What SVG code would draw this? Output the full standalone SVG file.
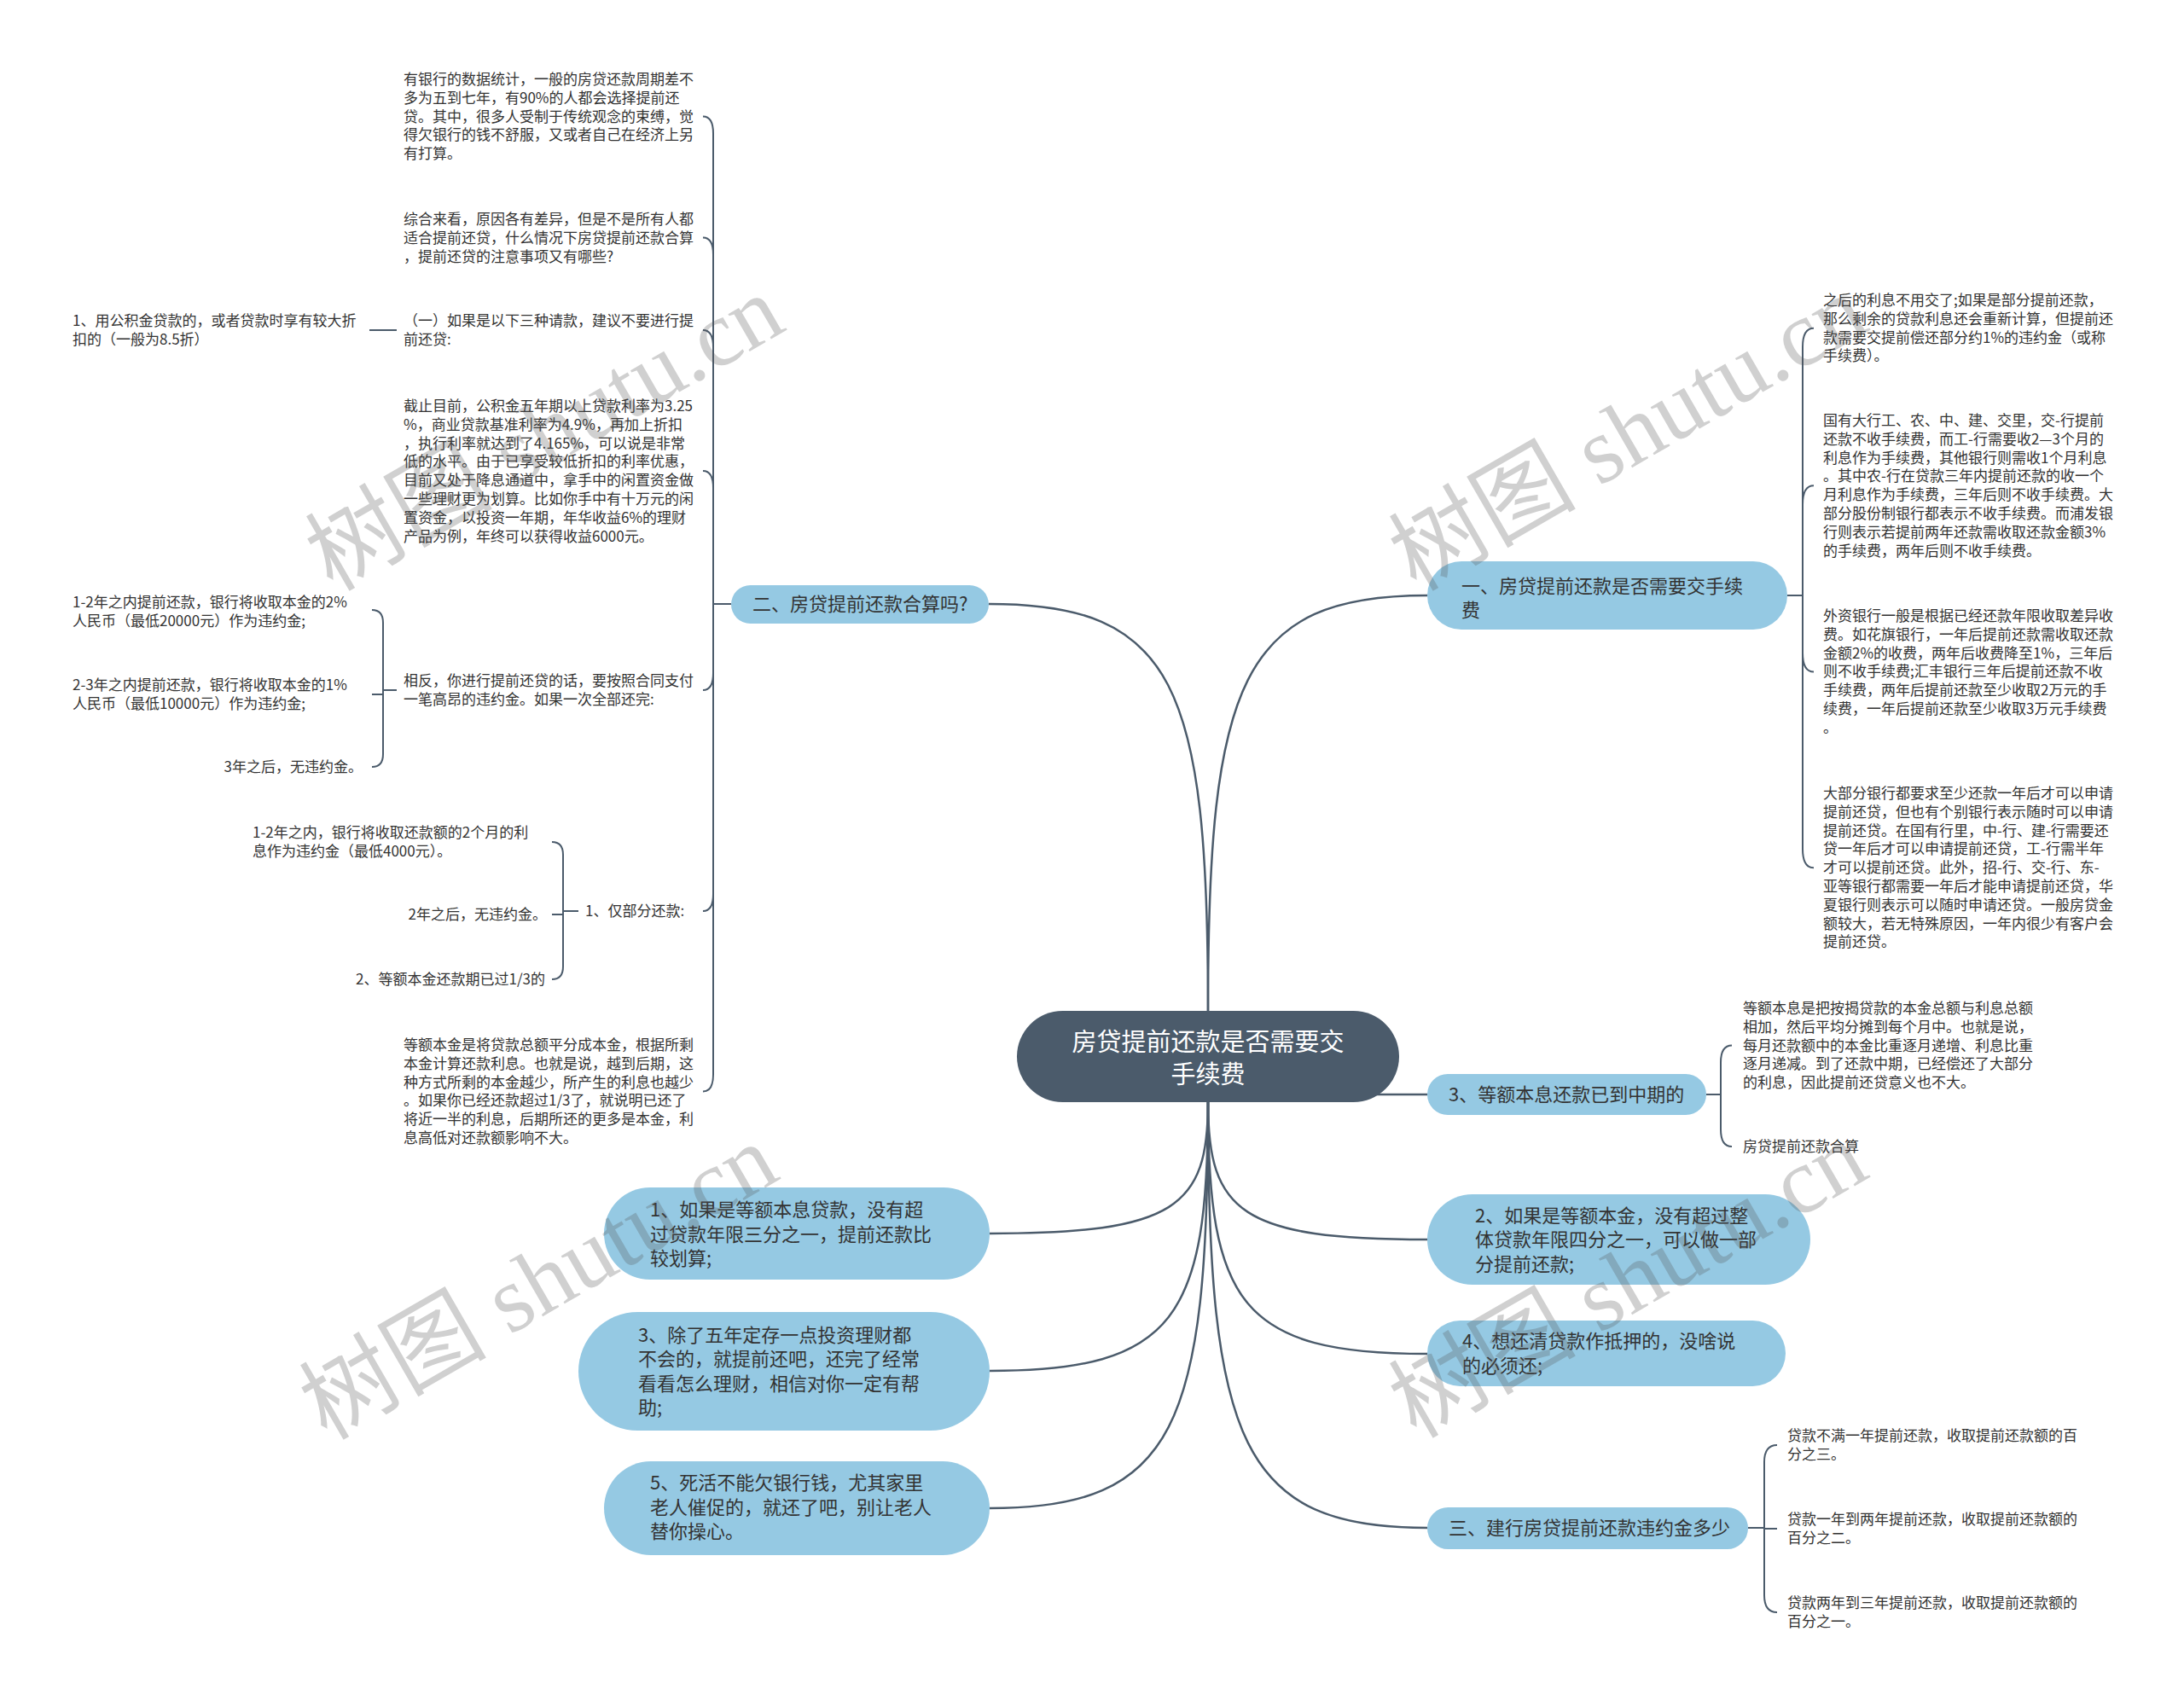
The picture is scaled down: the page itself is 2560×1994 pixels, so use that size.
<svg xmlns="http://www.w3.org/2000/svg" width="2560" height="1994" viewBox="0 0 2560 1994">
<style>
text{font-family:"Noto Sans CJK SC","Noto Sans",sans-serif;fill:#333}
.leaf{font-size:17px}
.l1{font-size:22px}
.root{font-size:29px;fill:#fff;text-anchor:middle}
.node{fill:#95c9e3}
.rootbox{fill:#4b5b6b}
.conn{fill:none;stroke:#4b5b6b;stroke-width:2.5}
.brace{fill:none;stroke:#4b5b6b;stroke-width:2}
.end{text-anchor:end}
.wm{font-family:"Liberation Serif","Noto Sans CJK SC",serif;font-size:110px;fill:#555;fill-opacity:0.28;text-anchor:middle}
</style>
<rect width="2560" height="1994" fill="#fff"/>
<g id="connectors">
<path class="conn" d="M1416,1185 C1416,803 1377,708 1159,708"/>
<path class="conn" d="M1416,1185 C1416,800 1455,698 1673,698"/>
<path class="conn" d="M1600,1283 H1673"/>
<path class="conn" d="M1416,1292 C1416,1415 1378,1446 1160,1446"/>
<path class="conn" d="M1416,1292 C1416,1544 1378,1607 1160,1607"/>
<path class="conn" d="M1416,1292 C1416,1673 1378,1768 1160,1768"/>
<path class="conn" d="M1416,1292 C1416,1421 1455,1453 1673,1453"/>
<path class="conn" d="M1416,1292 C1416,1528 1455,1587 1673,1587"/>
<path class="conn" d="M1416,1292 C1416,1691 1455,1791 1673,1791"/>
<path class="brace" d="M857,708 H836 V156.5 Q836,136.5 824,136.5"/>
<path class="brace" d="M857,708 H836 V298.5 Q836,278.5 824,278.5"/>
<path class="brace" d="M857,708 H836 V407 Q836,387 824,387"/>
<path class="brace" d="M857,708 H836 V572 Q836,552 824,552"/>
<path class="brace" d="M857,708 H836 V789 Q836,809 824,809"/>
<path class="brace" d="M857,708 H836 V1048 Q836,1068 824,1068"/>
<path class="brace" d="M857,708 H836 V1259.5 Q836,1279.5 824,1279.5"/>
<path class="brace" d="M465,387 H433"/>
<path class="brace" d="M465,809 H449 V730 Q449,715 436,715"/>
<path class="brace" d="M465,809 H449 V814 H436"/>
<path class="brace" d="M465,809 H449 V884 Q449,899 436,899"/>
<path class="brace" d="M678,1068 H660 V1002 Q660,987 647,987"/>
<path class="brace" d="M678,1068 H660 V1072 H647"/>
<path class="brace" d="M678,1068 H660 V1133 Q660,1148 647,1148"/>
<path class="brace" d="M2095,698 H2113 V406.7 Q2113,384.7 2126,384.7"/>
<path class="brace" d="M2095,698 H2113 V591.3 Q2113,569.3 2126,569.3"/>
<path class="brace" d="M2095,698 H2113 V765.4 Q2113,787.4 2126,787.4"/>
<path class="brace" d="M2095,698 H2113 V995.2 Q2113,1017.2 2126,1017.2"/>
<path class="brace" d="M2000,1283 H2017 V1245.6 Q2017,1225.6 2030,1225.6"/>
<path class="brace" d="M2000,1283 H2017 V1324 Q2017,1344 2030,1344"/>
<path class="brace" d="M2049,1791 H2068 V1714 Q2068,1694 2083,1694"/>
<path class="brace" d="M2049,1791 H2068 V1792 H2083"/>
<path class="brace" d="M2049,1791 H2068 V1870 Q2068,1890 2083,1890"/>
</g>
<g id="root">
<rect class="rootbox" x="1192" y="1185" width="448" height="107" rx="53.5"/>
<text class="root"><tspan x="1416" y="1232">房贷提前还款是否需要交</tspan><tspan x="1416" y="1270">手续费</tspan></text>
</g>
<g id="n-er">
<rect class="node" x="857" y="686" width="302" height="45" rx="22.5"/>
<text class="l1" x="882" y="716">二、房贷提前还款合算吗?</text>
</g>
<g id="n-left1">
<rect class="node" x="708" y="1392" width="452" height="108" rx="54"/>
<text class="l1"><tspan x="762" y="1426">1、如果是等额本息贷款，没有超</tspan><tspan x="762" y="1455">过贷款年限三分之一，提前还款比</tspan><tspan x="762" y="1483">较划算;</tspan></text>
</g>
<g id="n-left3">
<rect class="node" x="678" y="1538" width="482" height="139" rx="69.5"/>
<text class="l1"><tspan x="748" y="1573">3、除了五年定存一点投资理财都</tspan><tspan x="748" y="1601">不会的，就提前还吧，还完了经常</tspan><tspan x="748" y="1630">看看怎么理财，相信对你一定有帮</tspan><tspan x="748" y="1658">助;</tspan></text>
</g>
<g id="n-left5">
<rect class="node" x="708" y="1713" width="452" height="110" rx="55"/>
<text class="l1"><tspan x="762" y="1746">5、死活不能欠银行钱，尤其家里</tspan><tspan x="762" y="1775">老人催促的，就还了吧，别让老人</tspan><tspan x="762" y="1803">替你操心。</tspan></text>
</g>
<g id="n-yi">
<rect class="node" x="1673" y="658" width="422" height="80" rx="40"/>
<text class="l1"><tspan x="1713" y="695">一、房贷提前还款是否需要交手续</tspan><tspan x="1713" y="723">费</tspan></text>
</g>
<g id="n-right3">
<rect class="node" x="1673" y="1259" width="327" height="48" rx="24"/>
<text class="l1" x="1698" y="1291">3、等额本息还款已到中期的</text>
</g>
<g id="n-right2">
<rect class="node" x="1673" y="1400" width="449" height="106" rx="53"/>
<text class="l1"><tspan x="1729" y="1433">2、如果是等额本金，没有超过整</tspan><tspan x="1729" y="1461">体贷款年限四分之一，可以做一部</tspan><tspan x="1729" y="1490">分提前还款;</tspan></text>
</g>
<g id="n-right4">
<rect class="node" x="1673" y="1548" width="420" height="77" rx="38.5"/>
<text class="l1"><tspan x="1714" y="1580">4、想还清贷款作抵押的，没啥说</tspan><tspan x="1714" y="1609">的必须还;</tspan></text>
</g>
<g id="n-san">
<rect class="node" x="1673" y="1767" width="376" height="49" rx="24.5"/>
<text class="l1" x="1698" y="1799">三、建行房贷提前还款违约金多少</text>
</g>
<g id="leaf-er-1"><text class="leaf"><tspan x="473" y="99">有银行的数据统计，一般的房贷还款周期差不</tspan><tspan x="473" y="120.8">多为五到七年，有90%的人都会选择提前还</tspan><tspan x="473" y="142.6">贷。其中，很多人受制于传统观念的束缚，觉</tspan><tspan x="473" y="164.4">得欠银行的钱不舒服，又或者自己在经济上另</tspan><tspan x="473" y="186.2">有打算。</tspan></text></g>
<g id="leaf-er-2"><text class="leaf"><tspan x="473" y="263">综合来看，原因各有差异，但是不是所有人都</tspan><tspan x="473" y="284.8">适合提前还贷，什么情况下房贷提前还款合算</tspan><tspan x="473" y="306.6">，提前还贷的注意事项又有哪些?</tspan></text></g>
<g id="leaf-er-3"><text class="leaf"><tspan x="473" y="382">（一）如果是以下三种请款，建议不要进行提</tspan><tspan x="473" y="403.8">前还贷:</tspan></text></g>
<g id="leaf-er-3-1"><text class="leaf"><tspan x="85" y="382">1、用公积金贷款的，或者贷款时享有较大折</tspan><tspan x="85" y="403.8">扣的（一般为8.5折）</tspan></text></g>
<g id="leaf-er-4"><text class="leaf"><tspan x="473" y="482">截止目前，公积金五年期以上贷款利率为3.25</tspan><tspan x="473" y="503.8">%，商业贷款基准利率为4.9%，再加上折扣</tspan><tspan x="473" y="525.6">，执行利率就达到了4.165%，可以说是非常</tspan><tspan x="473" y="547.4">低的水平。由于已享受较低折扣的利率优惠，</tspan><tspan x="473" y="569.2">目前又处于降息通道中，拿手中的闲置资金做</tspan><tspan x="473" y="591">一些理财更为划算。比如你手中有十万元的闲</tspan><tspan x="473" y="612.8">置资金，以投资一年期，年华收益6%的理财</tspan><tspan x="473" y="634.6">产品为例，年终可以获得收益6000元。</tspan></text></g>
<g id="leaf-er-5"><text class="leaf"><tspan x="473" y="804">相反，你进行提前还贷的话，要按照合同支付</tspan><tspan x="473" y="825.8">一笔高昂的违约金。如果一次全部还完:</tspan></text></g>
<g id="leaf-er-5-1"><text class="leaf"><tspan x="85" y="712">1-2年之内提前还款，银行将收取本金的2%</tspan><tspan x="85" y="733.8">人民币（最低20000元）作为违约金;</tspan></text></g>
<g id="leaf-er-5-2"><text class="leaf"><tspan x="85" y="809">2-3年之内提前还款，银行将收取本金的1%</tspan><tspan x="85" y="830.8">人民币（最低10000元）作为违约金;</tspan></text></g>
<g id="leaf-er-5-3"><text class="leaf end" x="425" y="905">3年之后，无违约金。</text></g>
<g id="leaf-er-6"><text class="leaf" x="686" y="1074">1、仅部分还款:</text></g>
<g id="leaf-er-6-1"><text class="leaf"><tspan x="296" y="982">1-2年之内，银行将收取还款额的2个月的利</tspan><tspan x="296" y="1003.8">息作为违约金（最低4000元）。</tspan></text></g>
<g id="leaf-er-6-2"><text class="leaf end" x="641" y="1078">2年之后，无违约金。</text></g>
<g id="leaf-er-6-3"><text class="leaf end" x="639" y="1154">2、等额本金还款期已过1/3的</text></g>
<g id="leaf-er-7"><text class="leaf"><tspan x="473" y="1231">等额本金是将贷款总额平分成本金，根据所剩</tspan><tspan x="473" y="1252.8">本金计算还款利息。也就是说，越到后期，这</tspan><tspan x="473" y="1274.6">种方式所剩的本金越少，所产生的利息也越少</tspan><tspan x="473" y="1296.4">。如果你已经还款超过1/3了，就说明已还了</tspan><tspan x="473" y="1318.2">将近一半的利息，后期所还的更多是本金，利</tspan><tspan x="473" y="1340">息高低对还款额影响不大。</tspan></text></g>
<g id="leaf-yi-1"><text class="leaf"><tspan x="2137" y="358">之后的利息不用交了;如果是部分提前还款，</tspan><tspan x="2137" y="379.8">那么剩余的贷款利息还会重新计算，但提前还</tspan><tspan x="2137" y="401.6">款需要交提前偿还部分约1%的违约金（或称</tspan><tspan x="2137" y="423.4">手续费）。</tspan></text></g>
<g id="leaf-yi-2"><text class="leaf"><tspan x="2137" y="499">国有大行工、农、中、建、交里，交-行提前</tspan><tspan x="2137" y="520.8">还款不收手续费，而工-行需要收2—3个月的</tspan><tspan x="2137" y="542.6">利息作为手续费，其他银行则需收1个月利息</tspan><tspan x="2137" y="564.4">。其中农-行在贷款三年内提前还款的收一个</tspan><tspan x="2137" y="586.2">月利息作为手续费，三年后则不收手续费。大</tspan><tspan x="2137" y="608">部分股份制银行都表示不收手续费。而浦发银</tspan><tspan x="2137" y="629.8">行则表示若提前两年还款需收取还款金额3%</tspan><tspan x="2137" y="651.6">的手续费，两年后则不收手续费。</tspan></text></g>
<g id="leaf-yi-3"><text class="leaf"><tspan x="2137" y="728">外资银行一般是根据已经还款年限收取差异收</tspan><tspan x="2137" y="749.8">费。如花旗银行，一年后提前还款需收取还款</tspan><tspan x="2137" y="771.6">金额2%的收费，两年后收费降至1%，三年后</tspan><tspan x="2137" y="793.4">则不收手续费;汇丰银行三年后提前还款不收</tspan><tspan x="2137" y="815.2">手续费，两年后提前还款至少收取2万元的手</tspan><tspan x="2137" y="837">续费，一年后提前还款至少收取3万元手续费</tspan><tspan x="2137" y="858.8">。</tspan></text></g>
<g id="leaf-yi-4"><text class="leaf"><tspan x="2137" y="936">大部分银行都要求至少还款一年后才可以申请</tspan><tspan x="2137" y="957.8">提前还贷，但也有个别银行表示随时可以申请</tspan><tspan x="2137" y="979.6">提前还贷。在国有行里，中-行、建-行需要还</tspan><tspan x="2137" y="1001.4">贷一年后才可以申请提前还贷，工-行需半年</tspan><tspan x="2137" y="1023.2">才可以提前还贷。此外，招-行、交-行、东-</tspan><tspan x="2137" y="1045">亚等银行都需要一年后才能申请提前还贷，华</tspan><tspan x="2137" y="1066.8">夏银行则表示可以随时申请还贷。一般房贷金</tspan><tspan x="2137" y="1088.6">额较大，若无特殊原因，一年内很少有客户会</tspan><tspan x="2137" y="1110.4">提前还贷。</tspan></text></g>
<g id="leaf-r3-1"><text class="leaf"><tspan x="2043" y="1188">等额本息是把按揭贷款的本金总额与利息总额</tspan><tspan x="2043" y="1209.8">相加，然后平均分摊到每个月中。也就是说，</tspan><tspan x="2043" y="1231.6">每月还款额中的本金比重逐月递增、利息比重</tspan><tspan x="2043" y="1253.4">逐月递减。到了还款中期，已经偿还了大部分</tspan><tspan x="2043" y="1275.2">的利息，因此提前还贷意义也不大。</tspan></text></g>
<g id="leaf-r3-2"><text class="leaf" x="2043" y="1350">房贷提前还款合算</text></g>
<g id="leaf-san-1"><text class="leaf"><tspan x="2095" y="1689">贷款不满一年提前还款，收取提前还款额的百</tspan><tspan x="2095" y="1711">分之三。</tspan></text></g>
<g id="leaf-san-2"><text class="leaf"><tspan x="2095" y="1787">贷款一年到两年提前还款，收取提前还款额的</tspan><tspan x="2095" y="1809">百分之二。</tspan></text></g>
<g id="leaf-san-3"><text class="leaf"><tspan x="2095" y="1885">贷款两年到三年提前还款，收取提前还款额的</tspan><tspan x="2095" y="1907">百分之一。</tspan></text></g>
<g id="watermarks">
<text class="wm" transform="rotate(-30 657 540)" x="657" y="540">树图 shutu.cn</text>
<text class="wm" transform="rotate(-30 1927 540)" x="1927" y="540">树图 shutu.cn</text>
<text class="wm" transform="rotate(-30 650 1535)" x="650" y="1535">树图 shutu.cn</text>
<text class="wm" transform="rotate(-30 1927 1533)" x="1927" y="1533">树图 shutu.cn</text>
</g>
</svg>
